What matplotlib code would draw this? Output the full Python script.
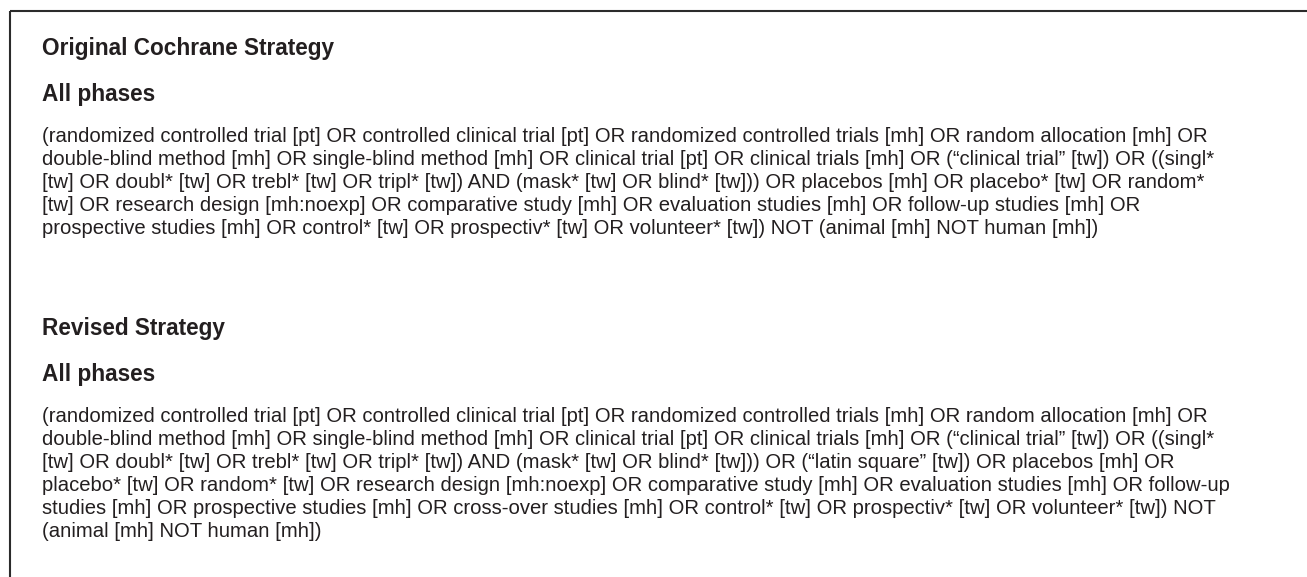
import matplotlib
matplotlib.use("Agg")
import matplotlib.pyplot as plt


# ----------------------------
# Text content
# ----------------------------

orig_title = "Original Cochrane Strategy"
orig_sub   = "All phases"
orig_lines = [
    "(randomized controlled trial [pt] OR controlled clinical trial [pt] OR randomized controlled trials [mh] OR random allocation [mh] OR",
    "double-blind method [mh] OR single-blind method [mh] OR clinical trial [pt] OR clinical trials [mh] OR (\u201cclinical trial\u201d [tw]) OR ((singl*",
    "[tw] OR doubl* [tw] OR trebl* [tw] OR tripl* [tw]) AND (mask* [tw] OR blind* [tw])) OR placebos [mh] OR placebo* [tw] OR random*",
    "[tw] OR research design [mh:noexp] OR comparative study [mh] OR evaluation studies [mh] OR follow-up studies [mh] OR",
    "prospective studies [mh] OR control* [tw] OR prospectiv* [tw] OR volunteer* [tw]) NOT (animal [mh] NOT human [mh])",
]

rev_title = "Revised Strategy"
rev_sub   = "All phases"
rev_lines = [
    "(randomized controlled trial [pt] OR controlled clinical trial [pt] OR randomized controlled trials [mh] OR random allocation [mh] OR",
    "double-blind method [mh] OR single-blind method [mh] OR clinical trial [pt] OR clinical trials [mh] OR (\u201cclinical trial\u201d [tw]) OR ((singl*",
    "[tw] OR doubl* [tw] OR trebl* [tw] OR tripl* [tw]) AND (mask* [tw] OR blind* [tw])) OR (\u201clatin square\u201d [tw]) OR placebos [mh] OR",
    "placebo* [tw] OR random* [tw] OR research design [mh:noexp] OR comparative study [mh] OR evaluation studies [mh] OR follow-up",
    "studies [mh] OR prospective studies [mh] OR cross-over studies [mh] OR control* [tw] OR prospectiv* [tw] OR volunteer* [tw]) NOT",
    "(animal [mh] NOT human [mh])",
]


# ----------------------------
# Layout (pixels)
# ----------------------------

W, H = 1307, 577
x0 = 42
body_width  = 1167   # width of first body line
title_width = 293    # width of "Original Cochrane Strategy"
line_step = 23
ink = "#231f20"
font = ["Liberation Sans", "DejaVu Sans"]

fig = plt.figure(figsize=(W / 100, H / 100), dpi=100)
ax = fig.add_axes([0, 0, 1, 1])
ax.set_xlim(0, W)
ax.set_ylim(H, 0)
ax.axis("off")

renderer = fig.canvas.get_renderer()


def fit_size(s, target, weight):
    t = ax.text(0, 0, s, fontsize=10, family=font, fontweight=weight)
    w = t.get_window_extent(renderer=renderer).width
    t.remove()
    return 10 * target / w


body_fs  = fit_size(orig_lines[0], body_width, "normal")
title_fs = fit_size(orig_title, title_width, "bold")

# border: top and left only
ax.plot([9.5, W], [10.5, 10.5], color="#2b2b2b", lw=1.5, solid_capstyle="butt")
ax.plot([9.5, 9.5], [10.5, H], color="#2b2b2b", lw=1.5, solid_capstyle="butt")


def block(y_title, title, sub, lines):
    ax.text(x0, y_title, title, fontsize=title_fs, fontweight="bold",
            family=font, color=ink, va="baseline")
    ax.text(x0, y_title + 46, sub, fontsize=title_fs, fontweight="bold",
            family=font, color=ink, va="baseline")
    for i, s in enumerate(lines):
        ax.text(x0, y_title + 87 + i * line_step, s, fontsize=body_fs,
                family=font, color=ink, va="baseline")


block(55, orig_title, orig_sub, orig_lines)
block(335, rev_title, rev_sub, rev_lines)

fig.savefig("out.png", dpi=100, facecolor="white")
